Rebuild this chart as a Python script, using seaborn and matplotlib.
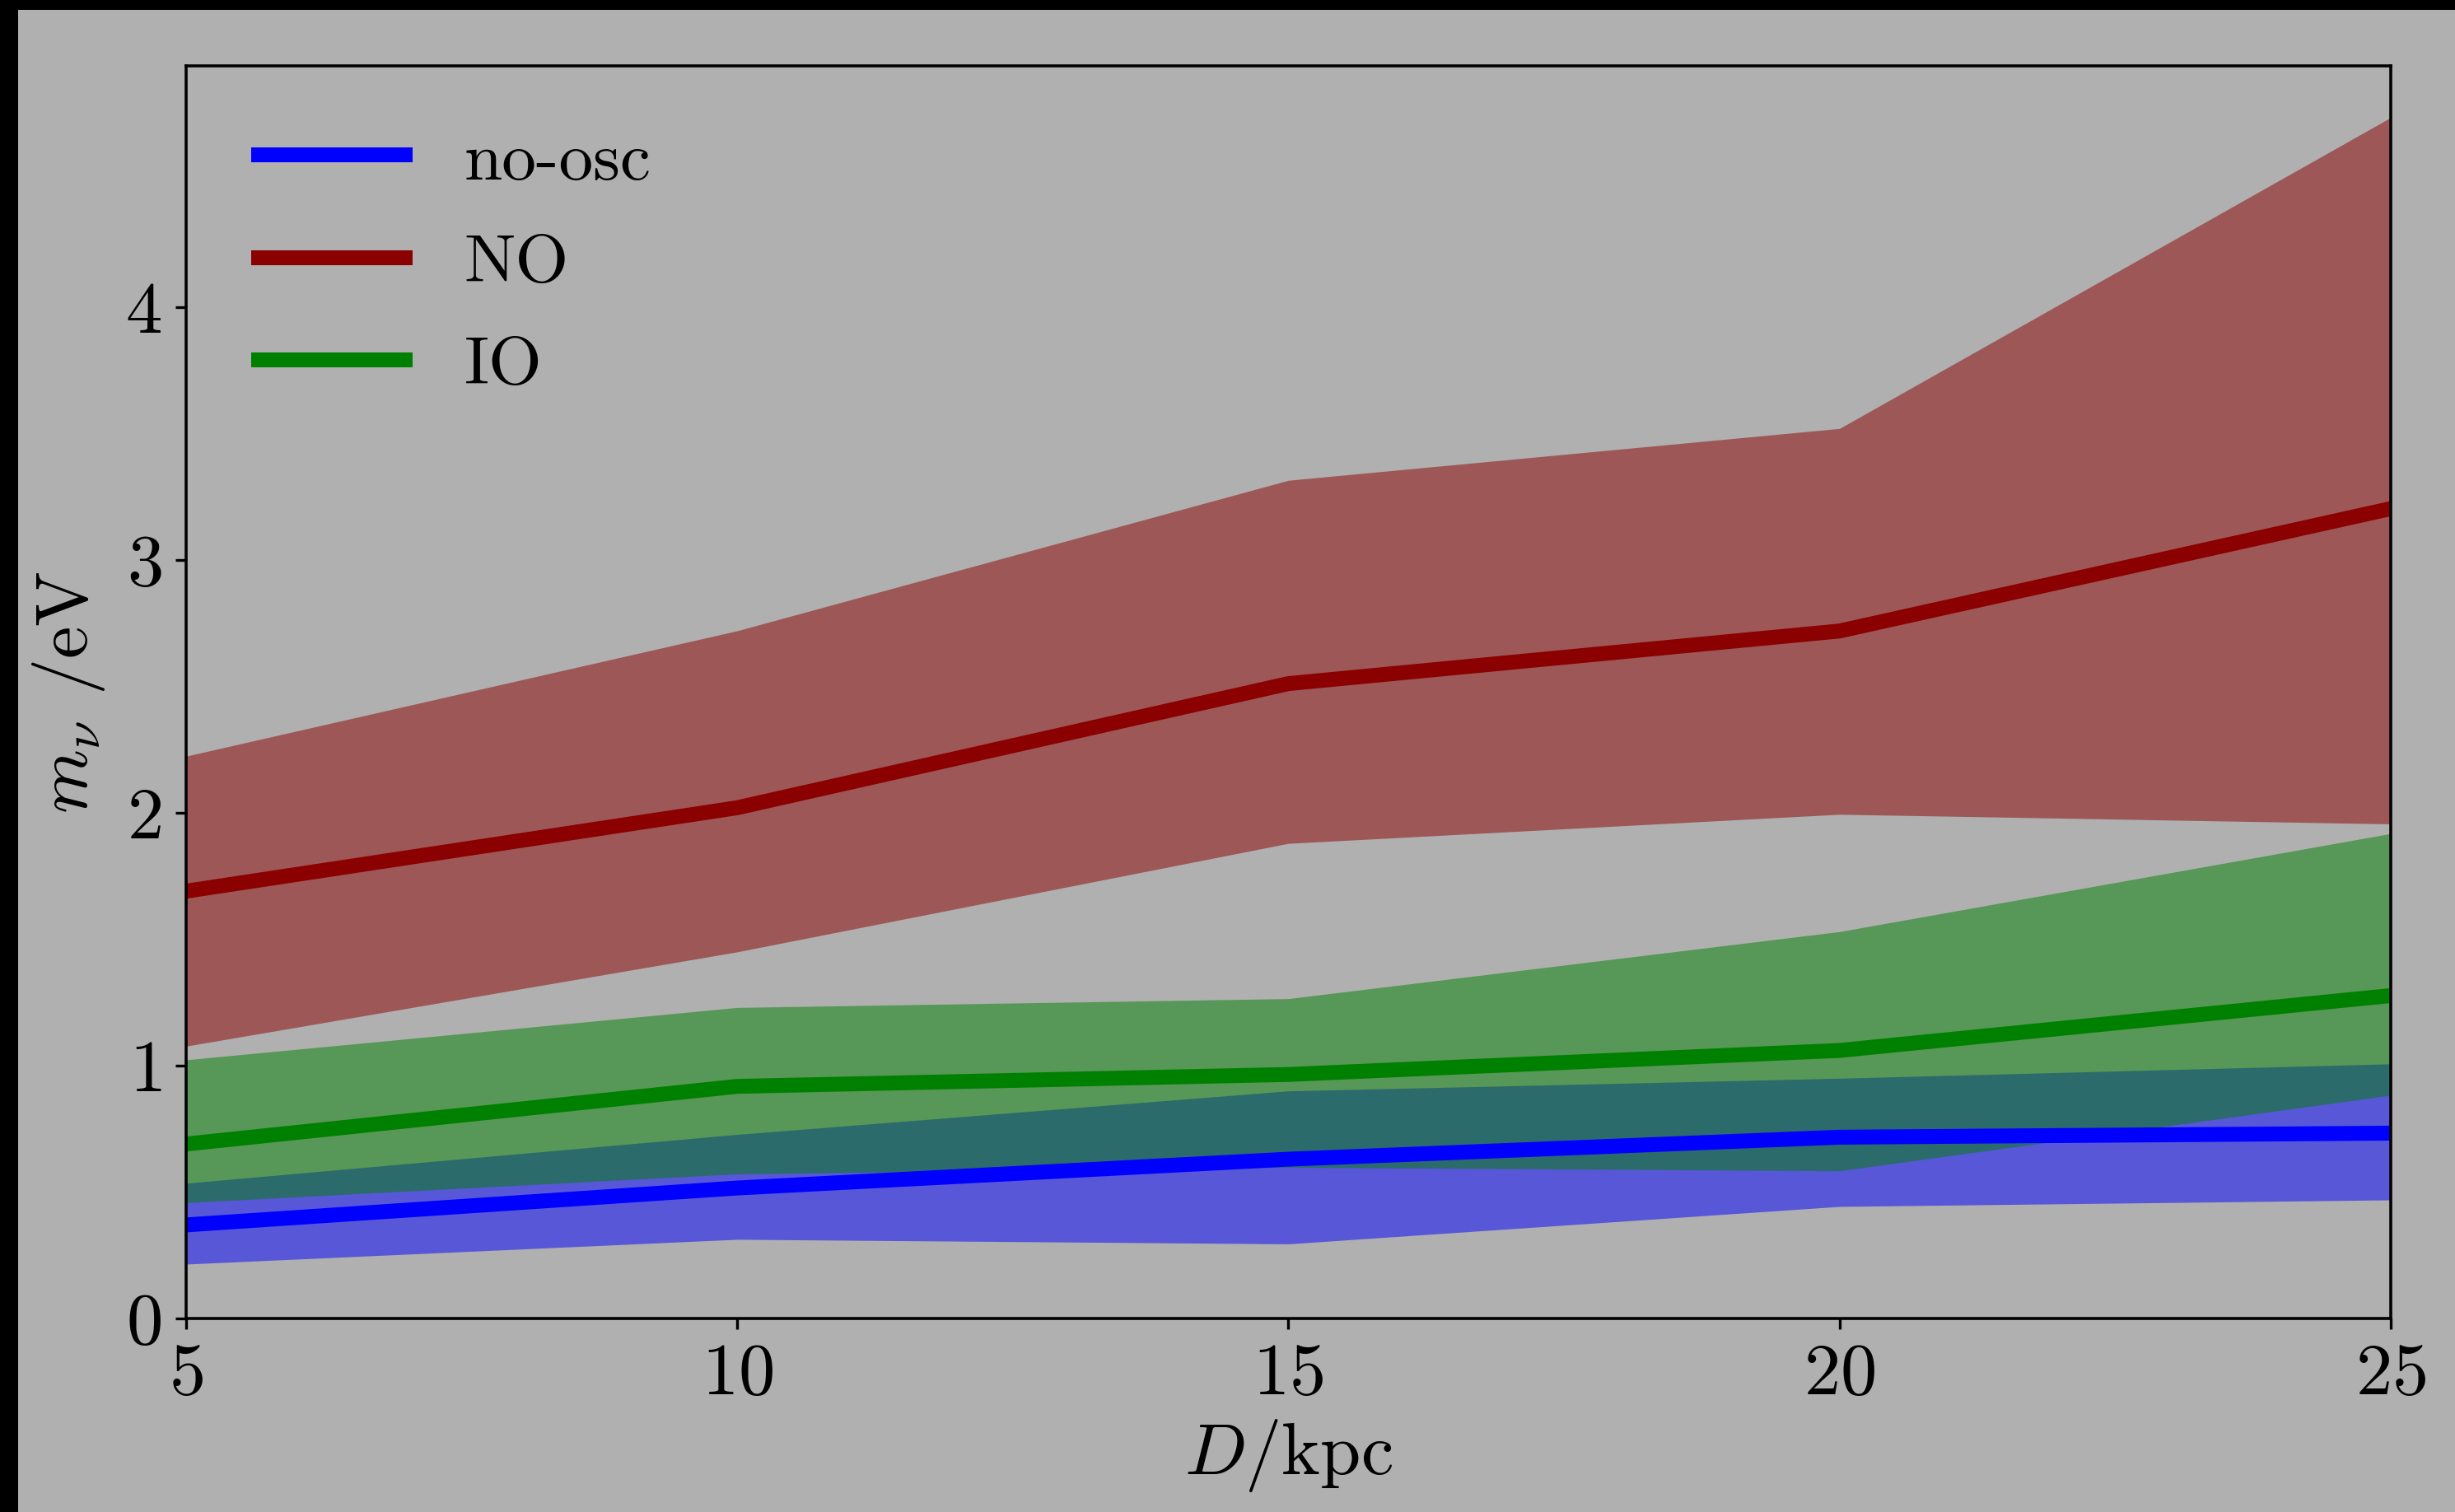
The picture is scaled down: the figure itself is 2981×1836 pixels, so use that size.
import numpy as np
import pandas as pd
import matplotlib
matplotlib.use("Agg")
import matplotlib.pyplot as plt
from matplotlib.patches import Rectangle
from matplotlib.lines import Line2D
import seaborn as sns

# Distance to the supernova (kpc)
D = [5, 10, 15, 20, 25]

# Neutrino mass sensitivity (eV): central value and band edges
noosc_mid = [0.37, 0.516, 0.63, 0.717, 0.733]
noosc_lo = [0.215, 0.313, 0.295, 0.443, 0.469]
noosc_hi = [0.535, 0.728, 0.90, 0.95, 1.007]

NO_mid = [1.69, 2.02, 2.511, 2.719, 3.203]
NO_lo = [1.077, 1.45, 1.879, 1.994, 1.956]
NO_hi = [2.224, 2.72, 3.315, 3.52, 4.75]

IO_mid = [0.69, 0.918, 0.965, 1.06, 1.277]
IO_lo = [0.458, 0.572, 0.598, 0.584, 0.883]
IO_hi = [1.023, 1.23, 1.265, 1.53, 1.918]

labels = ["no-osc", "NO", "IO"]
colors = {"no-osc": "blue", "NO": "darkred", "IO": "green"}

sns.set_style("ticks")
bg = "#b0b0b0"
plt.rcParams.update({
    "font.family": "serif",
    "font.serif": ["cmr10"],
    "mathtext.fontset": "cm",
    "axes.formatter.use_mathtext": True,
    "axes.unicode_minus": False,
    "figure.facecolor": bg,
    "axes.facecolor": bg,
    "savefig.facecolor": bg,
    "axes.edgecolor": "black",
    "axes.labelcolor": "black",
    "text.color": "black",
    "axes.linewidth": 1.3,
    "lines.solid_capstyle": "projecting",
    "xtick.color": "black",
    "ytick.color": "black",
    "xtick.labelcolor": "black",
    "ytick.labelcolor": "black",
    "xtick.major.size": 4.7,
    "ytick.major.size": 4.7,
    "xtick.major.width": 1.2,
    "ytick.major.width": 1.2,
    "xtick.direction": "out",
    "ytick.direction": "out",
    "font.size": 32,
})

fig = plt.figure(figsize=(14.905, 9.18), dpi=200)
ax = fig.add_axes([0.0758, 0.128, 0.898, 0.8284])

# Uncertainty bands (drawn first so the central lines sit on top)
ax.fill_between(D, noosc_lo, noosc_hi, color=colors["no-osc"], alpha=0.5, lw=0)
ax.fill_between(D, NO_lo, NO_hi, color=colors["NO"], alpha=0.5, lw=0)
ax.fill_between(D, IO_lo, IO_hi, color=colors["IO"], alpha=0.5, lw=0)

df = pd.DataFrame({
    "D": D * 3,
    "m": noosc_mid + NO_mid + IO_mid,
    "case": [labels[0]] * 5 + [labels[1]] * 5 + [labels[2]] * 5,
})
sns.lineplot(data=df, x="D", y="m", hue="case", hue_order=labels,
             palette=colors, linewidth=6.5, ax=ax, legend=False)

handles = [Line2D([], [], color=colors[lab], lw=6.5, solid_capstyle="butt")
           for lab in labels]
ax.legend(handles=handles, labels=labels, loc="upper left", frameon=False,
          fontsize=30, handlelength=2.35, handletextpad=0.75,
          labelspacing=0.6, borderaxespad=0.55, borderpad=0.4)

ax.set_xlim(5, 25)
ax.set_ylim(0, 4.954)
ax.set_xticks([5, 10, 15, 20, 25])
ax.set_yticks([0, 1, 2, 3, 4])
ax.tick_params(labelsize=32, pad=6)
ax.set_xlabel(r"$D$/kpc", fontsize=32, labelpad=4)
ax.set_ylabel(r"$m_\nu$ /eV", fontsize=32, labelpad=8)

# Dark frame strips along the top and left edges of the canvas
fig.patches.append(Rectangle((0, 1 - 12 / 1836), 1, 12 / 1836, transform=fig.transFigure,
                             facecolor="black", edgecolor="none", zorder=10))
fig.patches.append(Rectangle((0, 0), 22 / 2981, 1, transform=fig.transFigure,
                             facecolor="black", edgecolor="none", zorder=10))

fig.savefig("out.png", dpi=200)
